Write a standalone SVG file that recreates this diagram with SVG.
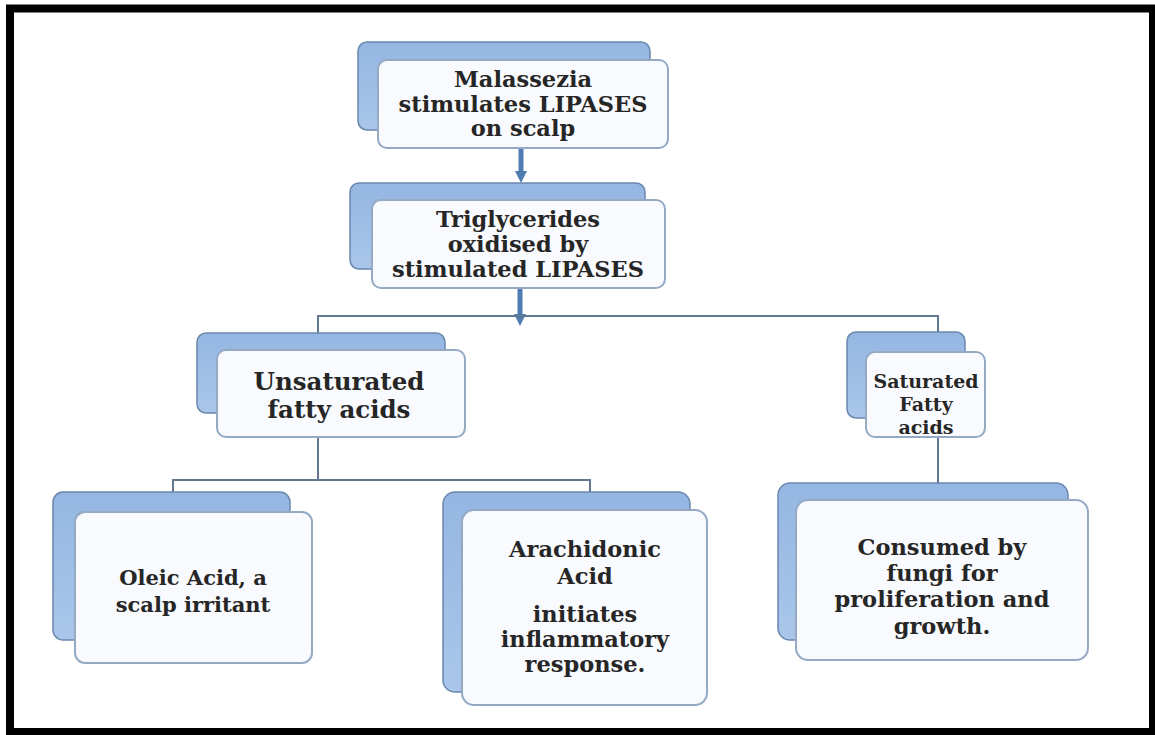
<svg xmlns="http://www.w3.org/2000/svg" width="1155" height="735" viewBox="0 0 1155 735">
<style>
.back{fill:url(#bg);stroke:#6a87ad;stroke-width:1.5}
.front{fill:#f8fafd;stroke:#93a9c4;stroke-width:2}
.t{font-family:"DejaVu Serif","Liberation Serif",serif;font-size:22.5px;font-weight:bold;fill:#262626;text-anchor:middle}
.s{font-size:19px}
.m{font-size:21px}
.l{font-size:24.5px}
.ln{fill:none;stroke:#61788f;stroke-width:2}
.ar{fill:none;stroke:#4f7db3;stroke-width:5}
</style>
<defs>
<linearGradient id="bg" x1="0" y1="0" x2="0" y2="1">
<stop offset="0" stop-color="#94b6e2"/>
<stop offset="1" stop-color="#aac6ea"/>
</linearGradient>
<marker id="ah" viewBox="0 0 10 10" refX="5" refY="5" markerWidth="2.4" markerHeight="2.4" orient="auto">
<path d="M0,0 L10,5 L0,10 z" fill="#4f7db3"/>
</marker>
</defs>
<rect x="0" y="0" width="1155" height="735" fill="#ffffff"/>
<rect x="10" y="8.5" width="1143" height="723.5" fill="none" stroke="#000" stroke-width="8"/>

<g id="connectors">
<line class="ar" x1="521" y1="148" x2="521" y2="177" marker-end="url(#ah)"/>
<line class="ar" x1="520" y1="288" x2="520" y2="320" marker-end="url(#ah)"/>
<path class="ln" d="M318,350 V316 H938 V352"/>
<path class="ln" d="M318,437 V480 M173,492 V480 H590 V492"/>
<path class="ln" d="M938,437 V483"/>
</g>

<g id="n1">
<rect class="back" x="358" y="42" width="292" height="88" rx="9"/>
<rect class="front" x="378" y="60" width="290" height="88" rx="9"/>
<text class="t" x="523" y="87">Malassezia</text>
<text class="t" x="523" y="112">stimulates LIPASES</text>
<text class="t" x="523" y="136">on scalp</text>
</g>

<g id="n2">
<rect class="back" x="350" y="183" width="295" height="86" rx="9"/>
<rect class="front" x="372" y="200" width="293" height="88" rx="9"/>
<text class="t" x="518" y="227">Triglycerides</text>
<text class="t" x="518" y="252">oxidised by</text>
<text class="t" x="518" y="277">stimulated LIPASES</text>
</g>

<g id="n3">
<rect class="back" x="197" y="333" width="248" height="80" rx="9"/>
<rect class="front" x="217" y="350" width="248" height="87" rx="9"/>
<text class="t l" x="339" y="390">Unsaturated</text>
<text class="t l" x="339" y="418">fatty acids</text>
</g>

<g id="n4">
<rect class="back" x="847" y="332" width="118" height="86" rx="9"/>
<rect class="front" x="866" y="352" width="119" height="85" rx="9"/>
<text class="t s" x="926" y="388">Saturated</text>
<text class="t s" x="926" y="411">Fatty</text>
<text class="t s" x="926" y="434">acids</text>
</g>

<g id="n5">
<rect class="back" x="53" y="492" width="237" height="148" rx="10"/>
<rect class="front" x="75" y="512" width="237" height="151" rx="10"/>
<text class="t m" x="193" y="585">Oleic Acid, a</text>
<text class="t m" x="193" y="612">scalp irritant</text>
</g>

<g id="n6">
<rect class="back" x="443" y="492" width="247" height="200" rx="12"/>
<rect class="front" x="462" y="510" width="245" height="195" rx="12"/>
<text class="t" x="585" y="557">Arachidonic</text>
<text class="t" x="585" y="584">Acid</text>
<text class="t" x="585" y="622">initiates</text>
<text class="t" x="585" y="647">inflammatory</text>
<text class="t" x="585" y="672">response.</text>
</g>

<g id="n7">
<rect class="back" x="778" y="483" width="290" height="157" rx="12"/>
<rect class="front" x="796" y="500" width="292" height="160" rx="12"/>
<text class="t" x="942" y="555">Consumed by</text>
<text class="t" x="942" y="581">fungi for</text>
<text class="t" x="942" y="607">proliferation and</text>
<text class="t" x="942" y="634">growth.</text>
</g>
</svg>
